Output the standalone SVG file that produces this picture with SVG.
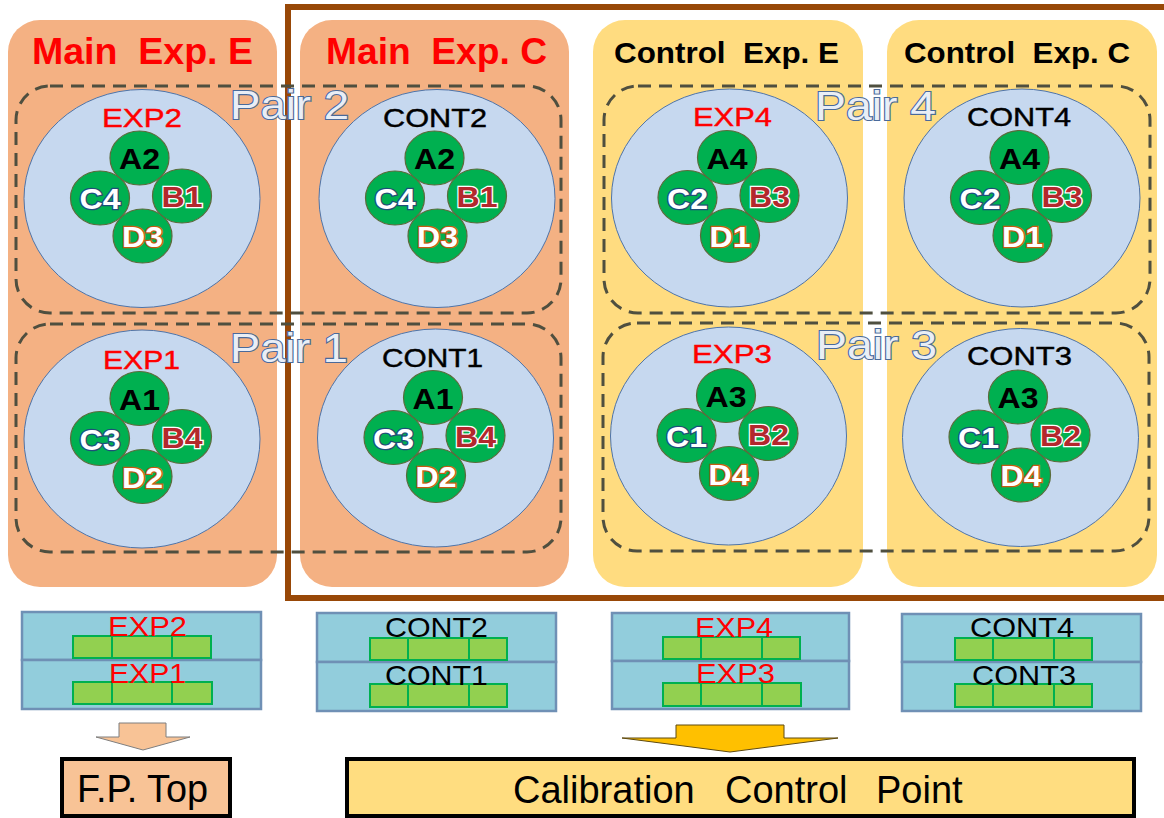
<svg xmlns="http://www.w3.org/2000/svg" width="1164" height="818" viewBox="0 0 1164 818">
<style>
text{font-family:"Liberation Sans",Arial,sans-serif;white-space:pre}
.pm{fill:#f4b183}
.pc{fill:#ffdc80}
.ttlM{font-size:36px;font-weight:bold;fill:#ff0000}
.ttlC{font-size:30px;font-weight:bold;fill:#000}
.dish{fill:#c6d8ef;stroke:#4f74a8;stroke-width:1}
.g{fill:#00b050;stroke:#5b6b3b;stroke-width:1.2}
.lbE{font-size:25px;fill:#ff0000;stroke:#ff0000;stroke-width:0.4}
.lbC{font-size:25px;fill:#000;stroke:#000;stroke-width:0.4}
.la{font-size:30px;font-weight:bold;fill:#000;text-anchor:middle}
.lc{font-size:30px;font-weight:bold;fill:#fff;stroke:#1f4e79;stroke-width:2.5;paint-order:stroke;text-anchor:middle}
.lb{font-size:30px;font-weight:bold;fill:#b3282d;stroke:#fff;stroke-width:2.5;paint-order:stroke;text-anchor:middle}
.ld{font-size:30px;font-weight:bold;fill:#fff;stroke:#c55a11;stroke-width:2.5;paint-order:stroke;text-anchor:middle}
.pair{fill:none;stroke:#4f4f3f;stroke-width:3;stroke-dasharray:13 8}
.pt{font-size:41px;fill:#e9eef6;stroke:#4a6a9a;stroke-width:2.2;paint-order:stroke}
.blk{fill:#92cddc;stroke:#6f90b5;stroke-width:2.5}
.bar{fill:#92d050;stroke:#00b050;stroke-width:2}
.btE{font-size:28px;fill:#ff0000}
.btC{font-size:28px;fill:#000}
.res{stroke:#000;stroke-width:4}
.rt{font-size:38px;fill:#000}
</style>

<g id="panel-main-exp-e">
<rect class="pm" x="8" y="20" width="269" height="567" rx="32"/>
<text class="ttlM" x="32" y="64" textLength="221" lengthAdjust="spacingAndGlyphs">Main  Exp. E</text>
</g>
<g id="panel-main-exp-c">
<rect class="pm" x="300" y="20" width="269" height="567" rx="32"/>
<text class="ttlM" x="326" y="64" textLength="221" lengthAdjust="spacingAndGlyphs">Main  Exp. C</text>
</g>
<g id="panel-control-exp-e">
<rect class="pc" x="593" y="20" width="270" height="567" rx="32"/>
<text class="ttlC" x="614" y="63" textLength="225" lengthAdjust="spacingAndGlyphs">Control  Exp. E</text>
</g>
<g id="panel-control-exp-c">
<rect class="pc" x="887" y="20" width="270" height="567" rx="32"/>
<text class="ttlC" x="904" y="63" textLength="226" lengthAdjust="spacingAndGlyphs">Control  Exp. C</text>
</g>

<g id="frame">
<rect x="288" y="7" width="900" height="591" fill="none" stroke="#984807" stroke-width="6"/>
</g>

<g id="dish-exp2" transform="translate(142,198.5)">
<ellipse class="dish" rx="118" ry="109"/>
<text class="lbE" x="-40" y="-71.5" textLength="80" lengthAdjust="spacingAndGlyphs">EXP2</text>
<ellipse class="g" cx="-2.5" cy="-40.5" rx="29.5" ry="27"/>
<ellipse class="g" cx="-42" cy="-0.5" rx="29.5" ry="27"/>
<ellipse class="g" cx="40" cy="-2.5" rx="29.5" ry="27"/>
<ellipse class="g" cx="0.5" cy="37.5" rx="29.5" ry="27"/>
<text class="la" x="-2.5" y="-29.5" textLength="41" lengthAdjust="spacingAndGlyphs">A2</text>
<text class="lc" x="-42" y="10.5" textLength="41" lengthAdjust="spacingAndGlyphs">C4</text>
<text class="lb" x="40" y="8.5" textLength="41" lengthAdjust="spacingAndGlyphs">B1</text>
<text class="ld" x="0.5" y="48.5" textLength="41" lengthAdjust="spacingAndGlyphs">D3</text>
</g>
<g id="dish-cont2" transform="translate(437,198.5)">
<ellipse class="dish" rx="118" ry="109"/>
<text class="lbC" x="-54" y="-71.5" textLength="104" lengthAdjust="spacingAndGlyphs">CONT2</text>
<ellipse class="g" cx="-2.5" cy="-40.5" rx="29.5" ry="27"/>
<ellipse class="g" cx="-42" cy="-0.5" rx="29.5" ry="27"/>
<ellipse class="g" cx="40" cy="-2.5" rx="29.5" ry="27"/>
<ellipse class="g" cx="0.5" cy="37.5" rx="29.5" ry="27"/>
<text class="la" x="-2.5" y="-29.5" textLength="41" lengthAdjust="spacingAndGlyphs">A2</text>
<text class="lc" x="-42" y="10.5" textLength="41" lengthAdjust="spacingAndGlyphs">C4</text>
<text class="lb" x="40" y="8.5" textLength="41" lengthAdjust="spacingAndGlyphs">B1</text>
<text class="ld" x="0.5" y="48.5" textLength="41" lengthAdjust="spacingAndGlyphs">D3</text>
</g>
<g id="dish-exp4" transform="translate(729.5,198)">
<ellipse class="dish" rx="118" ry="109"/>
<text class="lbE" x="-36.5" y="-72" textLength="79" lengthAdjust="spacingAndGlyphs">EXP4</text>
<ellipse class="g" cx="-2.5" cy="-40.5" rx="29.5" ry="27"/>
<ellipse class="g" cx="-42" cy="-0.5" rx="29.5" ry="27"/>
<ellipse class="g" cx="40" cy="-2.5" rx="29.5" ry="27"/>
<ellipse class="g" cx="0.5" cy="37.5" rx="29.5" ry="27"/>
<text class="la" x="-2.5" y="-29.5" textLength="41" lengthAdjust="spacingAndGlyphs">A4</text>
<text class="lc" x="-42" y="10.5" textLength="41" lengthAdjust="spacingAndGlyphs">C2</text>
<text class="lb" x="40" y="8.5" textLength="41" lengthAdjust="spacingAndGlyphs">B3</text>
<text class="ld" x="0.5" y="48.5" textLength="41" lengthAdjust="spacingAndGlyphs">D1</text>
</g>
<g id="dish-cont4" transform="translate(1022,198)">
<ellipse class="dish" rx="118" ry="109"/>
<text class="lbC" x="-55" y="-72" textLength="104" lengthAdjust="spacingAndGlyphs">CONT4</text>
<ellipse class="g" cx="-2.5" cy="-40.5" rx="29.5" ry="27"/>
<ellipse class="g" cx="-42" cy="-0.5" rx="29.5" ry="27"/>
<ellipse class="g" cx="40" cy="-2.5" rx="29.5" ry="27"/>
<ellipse class="g" cx="0.5" cy="37.5" rx="29.5" ry="27"/>
<text class="la" x="-2.5" y="-29.5" textLength="41" lengthAdjust="spacingAndGlyphs">A4</text>
<text class="lc" x="-42" y="10.5" textLength="41" lengthAdjust="spacingAndGlyphs">C2</text>
<text class="lb" x="40" y="8.5" textLength="41" lengthAdjust="spacingAndGlyphs">B3</text>
<text class="ld" x="0.5" y="48.5" textLength="41" lengthAdjust="spacingAndGlyphs">D1</text>
</g>
<g id="dish-exp1" transform="translate(142,439)">
<ellipse class="dish" rx="118" ry="109"/>
<text class="lbE" x="-39" y="-70" textLength="77" lengthAdjust="spacingAndGlyphs">EXP1</text>
<ellipse class="g" cx="-2.5" cy="-40.5" rx="29.5" ry="27"/>
<ellipse class="g" cx="-42" cy="-0.5" rx="29.5" ry="27"/>
<ellipse class="g" cx="40" cy="-2.5" rx="29.5" ry="27"/>
<ellipse class="g" cx="0.5" cy="37.5" rx="29.5" ry="27"/>
<text class="la" x="-2.5" y="-29.5" textLength="41" lengthAdjust="spacingAndGlyphs">A1</text>
<text class="lc" x="-42" y="10.5" textLength="41" lengthAdjust="spacingAndGlyphs">C3</text>
<text class="lb" x="40" y="8.5" textLength="41" lengthAdjust="spacingAndGlyphs">B4</text>
<text class="ld" x="0.5" y="48.5" textLength="41" lengthAdjust="spacingAndGlyphs">D2</text>
</g>
<g id="dish-cont1" transform="translate(435.5,438)">
<ellipse class="dish" rx="118" ry="109"/>
<text class="lbC" x="-53.5" y="-71" textLength="101" lengthAdjust="spacingAndGlyphs">CONT1</text>
<ellipse class="g" cx="-2.5" cy="-40.5" rx="29.5" ry="27"/>
<ellipse class="g" cx="-42" cy="-0.5" rx="29.5" ry="27"/>
<ellipse class="g" cx="40" cy="-2.5" rx="29.5" ry="27"/>
<ellipse class="g" cx="0.5" cy="37.5" rx="29.5" ry="27"/>
<text class="la" x="-2.5" y="-29.5" textLength="41" lengthAdjust="spacingAndGlyphs">A1</text>
<text class="lc" x="-42" y="10.5" textLength="41" lengthAdjust="spacingAndGlyphs">C3</text>
<text class="lb" x="40" y="8.5" textLength="41" lengthAdjust="spacingAndGlyphs">B4</text>
<text class="ld" x="0.5" y="48.5" textLength="41" lengthAdjust="spacingAndGlyphs">D2</text>
</g>
<g id="dish-exp3" transform="translate(728.5,436)">
<ellipse class="dish" rx="118" ry="109"/>
<text class="lbE" x="-36.5" y="-73" textLength="80" lengthAdjust="spacingAndGlyphs">EXP3</text>
<ellipse class="g" cx="-2.5" cy="-40.5" rx="29.5" ry="27"/>
<ellipse class="g" cx="-42" cy="-0.5" rx="29.5" ry="27"/>
<ellipse class="g" cx="40" cy="-2.5" rx="29.5" ry="27"/>
<ellipse class="g" cx="0.5" cy="37.5" rx="29.5" ry="27"/>
<text class="la" x="-2.5" y="-29.5" textLength="41" lengthAdjust="spacingAndGlyphs">A3</text>
<text class="lc" x="-42" y="10.5" textLength="41" lengthAdjust="spacingAndGlyphs">C1</text>
<text class="lb" x="40" y="8.5" textLength="41" lengthAdjust="spacingAndGlyphs">B2</text>
<text class="ld" x="0.5" y="48.5" textLength="41" lengthAdjust="spacingAndGlyphs">D4</text>
</g>
<g id="dish-cont3" transform="translate(1020.5,437.5)">
<ellipse class="dish" rx="118" ry="109"/>
<text class="lbC" x="-53.5" y="-72.5" textLength="105" lengthAdjust="spacingAndGlyphs">CONT3</text>
<ellipse class="g" cx="-2.5" cy="-40.5" rx="29.5" ry="27"/>
<ellipse class="g" cx="-42" cy="-0.5" rx="29.5" ry="27"/>
<ellipse class="g" cx="40" cy="-2.5" rx="29.5" ry="27"/>
<ellipse class="g" cx="0.5" cy="37.5" rx="29.5" ry="27"/>
<text class="la" x="-2.5" y="-29.5" textLength="41" lengthAdjust="spacingAndGlyphs">A3</text>
<text class="lc" x="-42" y="10.5" textLength="41" lengthAdjust="spacingAndGlyphs">C1</text>
<text class="lb" x="40" y="8.5" textLength="41" lengthAdjust="spacingAndGlyphs">B2</text>
<text class="ld" x="0.5" y="48.5" textLength="41" lengthAdjust="spacingAndGlyphs">D4</text>
</g>

<g id="pair-2">
<rect class="pair" x="16" y="86" width="545" height="227" rx="34"/>
<text class="pt" x="230" y="119" textLength="119" lengthAdjust="spacingAndGlyphs">Pair 2</text>
</g>
<g id="pair-1">
<rect class="pair" x="16" y="324" width="545" height="228" rx="34"/>
<text class="pt" x="230" y="362" textLength="118" lengthAdjust="spacingAndGlyphs">Pair 1</text>
</g>
<g id="pair-4">
<rect class="pair" x="604" y="86" width="546" height="227" rx="34"/>
<text class="pt" x="815" y="120" textLength="121" lengthAdjust="spacingAndGlyphs">Pair 4</text>
</g>
<g id="pair-3">
<rect class="pair" x="603" y="323" width="546" height="228" rx="34"/>
<text class="pt" x="816" y="359" textLength="121" lengthAdjust="spacingAndGlyphs">Pair 3</text>
</g>

<g id="block-exp">
<rect class="blk" x="22" y="612" width="239" height="48"/>
<rect class="blk" x="22" y="660" width="239" height="49"/>
<rect class="bar" x="73" y="636" width="39" height="22"/>
<rect class="bar" x="112" y="636" width="60" height="22"/>
<rect class="bar" x="172" y="636" width="39" height="22"/>
<rect class="bar" x="73" y="682" width="39" height="22"/>
<rect class="bar" x="112" y="682" width="60" height="22"/>
<rect class="bar" x="172" y="682" width="40" height="22"/>
<text class="btE" x="108" y="636" textLength="79" lengthAdjust="spacingAndGlyphs">EXP2</text>
<text class="btE" x="109" y="683" textLength="77" lengthAdjust="spacingAndGlyphs">EXP1</text>
</g>
<g id="block-cont">
<rect class="blk" x="317" y="613" width="239" height="49"/>
<rect class="blk" x="317" y="662" width="239" height="49"/>
<rect class="bar" x="370" y="638" width="38" height="22"/>
<rect class="bar" x="408" y="638" width="61" height="22"/>
<rect class="bar" x="469" y="638" width="38" height="22"/>
<rect class="bar" x="370" y="684" width="38" height="23"/>
<rect class="bar" x="408" y="684" width="61" height="23"/>
<rect class="bar" x="469" y="684" width="38" height="23"/>
<text class="btC" x="385" y="637" textLength="103" lengthAdjust="spacingAndGlyphs">CONT2</text>
<text class="btC" x="385" y="685" textLength="103" lengthAdjust="spacingAndGlyphs">CONT1</text>
</g>
<g id="block-exp-control">
<rect class="blk" x="612" y="613" width="237" height="48"/>
<rect class="blk" x="612" y="661" width="237" height="48"/>
<rect class="bar" x="663" y="637" width="38" height="22"/>
<rect class="bar" x="701" y="637" width="61" height="22"/>
<rect class="bar" x="762" y="637" width="38" height="22"/>
<rect class="bar" x="663" y="683" width="38" height="23"/>
<rect class="bar" x="701" y="683" width="61" height="23"/>
<rect class="bar" x="762" y="683" width="39" height="23"/>
<text class="btE" x="695" y="637" textLength="78" lengthAdjust="spacingAndGlyphs">EXP4</text>
<text class="btE" x="696" y="683" textLength="79" lengthAdjust="spacingAndGlyphs">EXP3</text>
</g>
<g id="block-cont-control">
<rect class="blk" x="902" y="614" width="239" height="48"/>
<rect class="blk" x="902" y="662" width="239" height="49"/>
<rect class="bar" x="955" y="638" width="38" height="22"/>
<rect class="bar" x="993" y="638" width="61" height="22"/>
<rect class="bar" x="1054" y="638" width="38" height="22"/>
<rect class="bar" x="955" y="684" width="38" height="23"/>
<rect class="bar" x="993" y="684" width="61" height="23"/>
<rect class="bar" x="1054" y="684" width="38" height="23"/>
<text class="btC" x="970" y="637" textLength="104" lengthAdjust="spacingAndGlyphs">CONT4</text>
<text class="btC" x="972" y="685" textLength="104" lengthAdjust="spacingAndGlyphs">CONT3</text>
</g>

<g id="connectors">
<polygon points="119,723 166,723 166,737 190,737 143,750 96,737 119,737" fill="#f8c396" stroke="#7f7f7f" stroke-width="1"/>
<polygon points="676,725 784,725 784,738 838,738 730,752 622,738 676,738" fill="#ffc000" stroke="#5f4a10" stroke-width="1"/>
</g>

<g id="result-fp-top">
<rect class="res" x="62" y="759" width="168" height="57" fill="#f8c396"/>
<text class="rt" x="77" y="802" textLength="131" lengthAdjust="spacingAndGlyphs">F.P. Top</text>
</g>
<g id="result-calibration">
<rect class="res" x="347" y="759" width="787" height="57" fill="#ffdd80"/>
<text class="rt" y="803"><tspan x="513">Calibration</tspan><tspan x="725">Control</tspan><tspan x="876">Point</tspan></text>
</g>
</svg>
